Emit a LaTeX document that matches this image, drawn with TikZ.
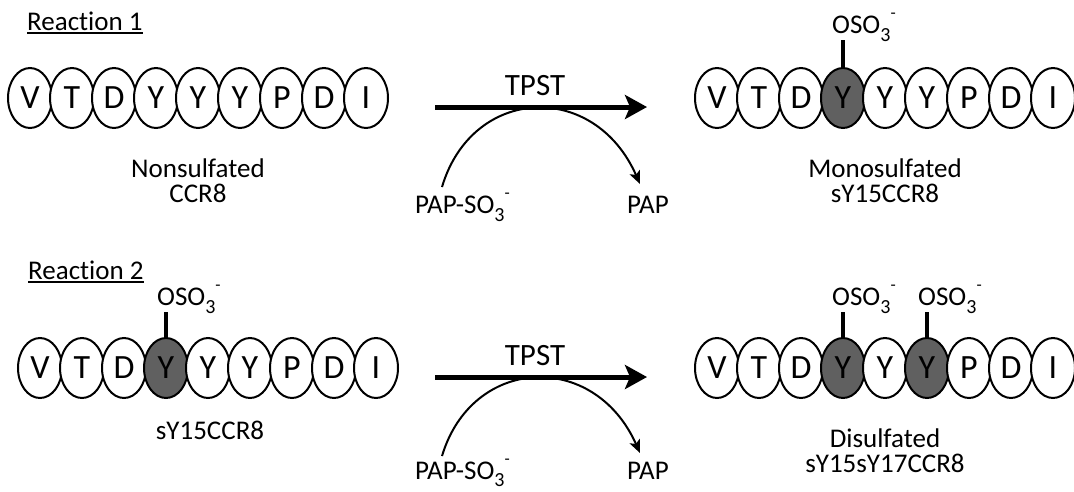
\documentclass[tikz,border=0pt]{standalone}
\usepackage{fontspec}
\setmainfont{Carlito}[Ligatures=NoCommon]
\usetikzlibrary{shapes.geometric,arrows.meta,calc}

\definecolor{sulfo}{RGB}{96,96,96}

% small lowered/raised pieces of chemical formulas
\newcommand\chemlow[1]{\raisebox{-8pt}{\fontsize{20}{20}\selectfont #1}}
\newcommand\chemhigh[1]{\raisebox{15pt}{\fontsize{17}{17}\selectfont #1}}
\newcommand\osothree{OSO\chemlow{3}\chemhigh{-}}
\newcommand\papso{PAP-SO\chemlow{3}\chemhigh{-}}

\tikzset{
  res/.style={ellipse, draw, line width=2pt, fill=white,
    minimum width=44pt, minimum height=60pt, inner sep=0pt,
    font=\fontsize{34}{34}\selectfont},
  resS/.style={res, fill=sulfo},
  lbl/.style={inner sep=0pt, font=\fontsize{27}{27}\selectfont},
  enz/.style={inner sep=0pt, font=\fontsize{31}{31}\selectfont},
  stem/.style={line width=3.5pt},
  rxn/.style={line width=5pt, -{Stealth[length=22pt,width=24pt,inset=5pt]}},
  cof/.style={line width=2pt, -{Stealth[length=13pt,width=11pt,inset=3pt]}},
  uline/.style={line width=2pt},
}

\begin{document}
\begin{tikzpicture}[x=1pt,y=-1pt]
\useasboundingbox (0,0) rectangle (1074,491);

% ---------------- Reaction 1 ----------------
\node[lbl, anchor=base west] (rA) at (27,30) {Reaction 1};
\draw[uline] ([yshift=-3pt]rA.base west) -- ([yshift=-3pt]rA.base east);

% nonsulfated peptide
\foreach \l/\s [count=\i from 0] in {V/res,T/res,D/res,Y/res,Y/res,Y/res,P/res,D/res,I/res}
  \node[\s] (a\i) at (30+42*\i,98) {\l};
\node[lbl, anchor=base] (aL1) at (198,177) {Nonsulfated};
\node[lbl, anchor=base] (aL2) at (198,202) {CCR8};

% monosulfated peptide
\foreach \l/\s [count=\i from 0] in {V/res,T/res,D/res,Y/resS,Y/res,Y/res,P/res,D/res,I/res}
  \node[\s] (b\i) at (717+42*\i,98) {\l};
\coordinate (b3t) at (843,40);
\draw[stem] (b3.north) -- (b3t);
\node[lbl, anchor=base west] (bO) at (832,33) {\osothree};
\node[lbl, anchor=base] (bL1) at (885,177) {Monosulfated};
\node[lbl, anchor=base] (bL2) at (885,202) {sY15CCR8};

% enzyme step
\coordinate (r1s) at (435,107);
\coordinate (r1e) at (647,107);
\draw[rxn] (r1s) -- (r1e);
\node[enz, anchor=base] (t1) at (535,95) {TPST};
\node[lbl, anchor=base west] (p1a) at (415,213) {\papso};
\node[lbl, anchor=base west] (p1b) at (627,213) {PAP};
\coordinate (c1s) at (442,187);
\coordinate (c1e) at (640,184);
\draw[cof] (c1s) .. controls (472,86) and (594,80) .. (c1e);

% ---------------- Reaction 2 ----------------
\node[lbl, anchor=base west] (rB) at (28,279) {Reaction 2};
\draw[uline] ([yshift=-3pt]rB.base west) -- ([yshift=-3pt]rB.base east);

% monosulfated substrate
\foreach \l/\s [count=\i from 0] in {V/res,T/res,D/res,Y/resS,Y/res,Y/res,P/res,D/res,I/res}
  \node[\s] (c\i) at (40+42*\i,368) {\l};
\coordinate (c3t) at (166,312);
\draw[stem] (c3.north) -- (c3t);
\node[lbl, anchor=base west] (cO) at (157,305) {\osothree};
\node[lbl, anchor=base] (cL1) at (210,439) {sY15CCR8};

% disulfated product
\foreach \l/\s [count=\i from 0] in {V/res,T/res,D/res,Y/resS,Y/res,Y/resS,P/res,D/res,I/res}
  \node[\s] (d\i) at (717+42*\i,368) {\l};
\coordinate (d3t) at (843,312);
\coordinate (d5t) at (927,312);
\draw[stem] (d3.north) -- (d3t);
\draw[stem] (d5.north) -- (d5t);
\node[lbl, anchor=base west] (dO1) at (832,305) {\osothree};
\node[lbl, anchor=base west] (dO2) at (918,305) {\osothree};
\node[lbl, anchor=base] (dL1) at (885,447) {Disulfated};
\node[lbl, anchor=base] (dL2) at (885,472) {sY15sY17CCR8};

% enzyme step
\coordinate (r2s) at (435,377);
\coordinate (r2e) at (647,377);
\draw[rxn] (r2s) -- (r2e);
\node[enz, anchor=base] (t2) at (535,365) {TPST};
\node[lbl, anchor=base west] (p2a) at (415,479) {PAP-SO\raisebox{-7pt}[0pt][0pt]{\fontsize{20}{20}\selectfont 3}\chemhigh{-}};
\node[lbl, anchor=base west] (p2b) at (627,479) {PAP};
\coordinate (c2s) at (442,456);
\coordinate (c2e) at (640,453);
\draw[cof] (c2s) .. controls (472,356) and (594,350) .. (c2e);
\end{tikzpicture}
\end{document}
